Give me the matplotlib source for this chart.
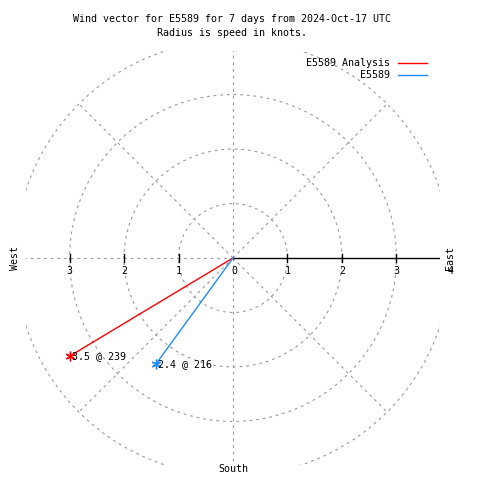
import numpy as np
import matplotlib
matplotlib.use("Agg")
import matplotlib.pyplot as plt

# data
series = ["E5589 Analysis", "E5589"]
speeds = [3.5, 2.4]          # knots
directions = [239, 216]      # degrees, compass
colors = ["#ff0000", "#1a8cff"]
rings = [1, 2, 3, 4]
spokes = [45, 90, 135, 180, 225, 270, 315]
ticks = [-3, -2, -1, 1, 2, 3, 4]

FONT = "DejaVu Sans Mono"
FS = 7.2
GRID = "#999999"
DASH = (0, (2.5, 3.5))

fig = plt.figure(figsize=(4.8, 4.8), dpi=100)
# center of the polar grid at pixel (233, 258), 54.5 px per knot
ax = fig.add_axes([26 / 480, 15 / 480, 414 / 480, 414 / 480])
ax.set_xlim(-3.8, 3.8)
ax.set_ylim(-3.8, 3.8)
ax.set_aspect("equal")
ax.axis("off")

# grid rings and spokes (clipped to the plot box)
t = np.linspace(0, 2 * np.pi, 600)
for r in rings:
    ax.plot(r * np.cos(t), r * np.sin(t), color=GRID, lw=0.8, ls=DASH, zorder=1)
for a in spokes:
    th = np.radians(a)
    ax.plot([0, 4 * np.cos(th)], [0, 4 * np.sin(th)], color=GRID, lw=0.8,
            ls=DASH, zorder=1)

# radial axis
ax.plot([0, 3.8], [0, 0], color="black", lw=1.0, zorder=2)
for v in ticks:
    if abs(v) < 3.8:
        ax.plot([v, v], [-0.08, 0.08], color="black", lw=1.0, zorder=2)
    ax.text(v, -0.15, str(abs(v)), ha="center", va="top", fontsize=FS, family=FONT,
            clip_on=False)
ax.text(0.03, -0.15, "0", ha="center", va="top", fontsize=FS, family=FONT)

# compass labels
ax.text(3.99, 0, "East", rotation=90, ha="center", va="center", fontsize=FS, family=FONT)
ax.text(-4.0, 0, "West", rotation=90, ha="center", va="center", fontsize=FS, family=FONT)
ax.text(0, -3.87, "South", ha="center", va="center", fontsize=FS, family=FONT)

# wind vectors
for name, s, d, c in zip(series, speeds, directions, colors):
    th = np.radians(90 - d)
    x, y = s * np.cos(th), s * np.sin(th)
    ax.plot([0, x], [0, y], color=c, lw=1.0, zorder=3)
    ax.plot([x], [y], marker=(6, 2, 0), color=c, ms=7, mew=1.0, zorder=4)
    ax.text(x + 0.04, y, f"{s} @ {d}", ha="left", va="center", fontsize=FS, family=FONT,
            zorder=5)

# legend
for i, (name, c) in enumerate(zip(series, colors)):
    yy = 1 - (63 + 12 * i) / 480
    fig.text(390 / 480, yy, name, ha="right", va="center", fontsize=FS, family=FONT)
    fig.lines.append(plt.Line2D([398 / 480, 427 / 480], [yy, yy], color=c, lw=1.0,
                                transform=fig.transFigure))

# title
fig.text(232 / 480, 1 - 19 / 480, "Wind vector for E5589 for 7 days from 2024-Oct-17 UTC",
         ha="center", va="center", fontsize=FS, family=FONT)
fig.text(232 / 480, 1 - 33 / 480, "Radius is speed in knots.",
         ha="center", va="center", fontsize=FS, family=FONT)

fig.savefig("out.png", dpi=100)
